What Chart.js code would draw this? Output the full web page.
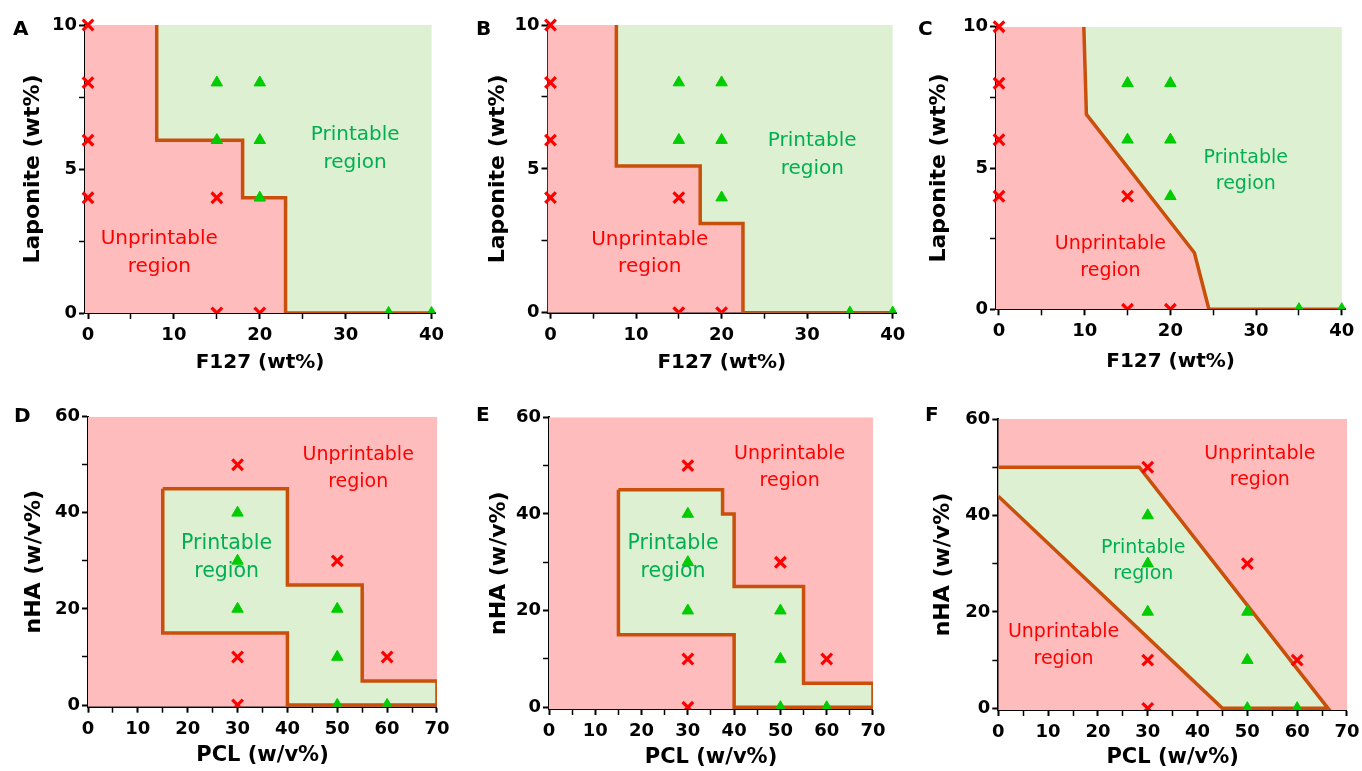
<!DOCTYPE html>
<html>
<head>
<meta charset="utf-8">
<script src="https://cdn.jsdelivr.net/npm/chart.js@4.4.1/dist/chart.umd.min.js"></script>
<style>
  html, body { margin: 0; padding: 0; background: #fff; overflow: hidden; width: 1362px; height: 771px; }
  canvas { position: absolute; }
</style>
</head>
<body>
<canvas id="cA"></canvas>
<canvas id="cB"></canvas>
<canvas id="cC"></canvas>
<canvas id="cD"></canvas>
<canvas id="cE"></canvas>
<canvas id="cF"></canvas>
<script>
// Axis ticks
const f127Ticks = [0, 10, 20, 30, 40];
const f127Minor = [5, 15, 25, 35];
const laponiteTicks = [0, 5, 10];
const laponiteMinor = [2.5, 7.5];
const pclTicks = [0, 10, 20, 30, 40, 50, 60, 70];
const pclMinor = [5, 15, 25, 35, 45, 55, 65];
const nhaTicks = [0, 20, 40, 60];
const nhaMinor = [10, 30, 50];

// Tested formulations, [x, y]
const lapUnprintable = [[0, 10], [0, 8], [0, 6], [0, 4], [15, 4], [15, 0], [20, 0]];
const lapPrintable = [[15, 8], [20, 8], [15, 6], [20, 6], [20, 4], [35, 0], [40, 0]];
const pclUnprintable = [[30, 50], [50, 30], [30, 10], [60, 10], [30, 0]];
const pclPrintable = [[30, 40], [30, 30], [30, 20], [50, 20], [50, 10], [50, 0], [60, 0]];

// Printability boundaries
const boundaryA = [[8, 10], [8, 6], [18, 6], [18, 4], [23, 4], [23, 0], [40, 0]];
const boundaryB = [[7.7, 10], [7.7, 5.1], [17.5, 5.1], [17.5, 3.1], [22.5, 3.1], [22.5, 0], [40, 0]];
const boundaryC = [[9.9, 10], [10.2, 6.9], [22.8, 2], [24.5, 0], [40, 0]];
const regionD = [[15, 45], [40, 45], [40, 25], [55, 25], [55, 5], [70, 5], [70, 0], [40, 0], [40, 15], [15, 15], [15, 45]];
const regionE = [[15, 45], [37.5, 45], [37.5, 40], [40, 40], [40, 25], [55, 25], [55, 5], [70, 5], [70, 0], [40, 0], [40, 15], [15, 15], [15, 45]];
const regionF = [[0, 50], [28.3, 50], [66.2, 0], [45, 0], [0, 44]];

const FONT = "'DejaVu Sans', sans-serif";
const PINK = '#FFBCBC';
const LIGHT_GREEN = '#DDF0D2';
const BROWN = '#C8500A';
const RED = '#FF0000';
const MARK_GREEN = '#00CC00';
const TEXT_GREEN = '#00B050';
const WY = 80, HX = 66;

const panels = [
  { id: 'cA', letter: 'A', kind: 'lap', line: boundaryA, row: 0,
    area: { l: 85, r: 435, t: 25, b: 313 }, yTitleX: 33, xTitleY: 362.5, letterPos: [13, 35],
    labels: [
      { lines: ['Printable', 'region'], x: 31.1, y: 5.7, color: TEXT_GREEN, size: 20 },
      { lines: ['Unprintable', 'region'], x: 8.3, y: 2.08, color: RED, size: 20 }
    ] },
  { id: 'cB', letter: 'B', kind: 'lap', line: boundaryB, row: 0,
    area: { l: 547.5, r: 896.1, t: 25, b: 312.7 }, yTitleX: 498, xTitleY: 362.5, letterPos: [476, 34.5],
    labels: [
      { lines: ['Printable', 'region'], x: 30.6, y: 5.49, color: TEXT_GREEN, size: 20 },
      { lines: ['Unprintable', 'region'], x: 11.6, y: 2.07, color: RED, size: 20 }
    ] },
  { id: 'cC', letter: 'C', kind: 'lap', line: boundaryC, row: 0,
    area: { l: 996, r: 1345.2, t: 26.7, b: 309.3 }, yTitleX: 939, xTitleY: 361.7, letterPos: [918, 35],
    labels: [
      { lines: ['Printable', 'region'], x: 28.8, y: 4.9, color: TEXT_GREEN, size: 19 },
      { lines: ['Unprintable', 'region'], x: 13.0, y: 1.83, color: RED, size: 19 }
    ] },
  { id: 'cD', letter: 'D', kind: 'pcl', line: regionD, row: 1,
    area: { l: 88, r: 439.3, t: 416.7, b: 706.7 }, yTitleX: 34, xTitleY: 755.5, letterPos: [14, 421.7],
    labels: [
      { lines: ['Unprintable', 'region'], x: 54.2, y: 49.2, color: RED, size: 19 },
      { lines: ['Printable', 'region'], x: 27.8, y: 30.7, color: TEXT_GREEN, size: 20.5 }
    ] },
  { id: 'cE', letter: 'E', kind: 'pcl', line: regionE, row: 1,
    area: { l: 549, r: 876, t: 417.3, b: 709 }, yTitleX: 499, xTitleY: 757.5, letterPos: [476, 421],
    labels: [
      { lines: ['Unprintable', 'region'], x: 52.0, y: 49.6, color: RED, size: 19 },
      { lines: ['Printable', 'region'], x: 26.8, y: 31.0, color: TEXT_GREEN, size: 20.5 }
    ] },
  { id: 'cF', letter: 'F', kind: 'pcl', line: regionF, row: 1,
    area: { l: 998.3, r: 1349.3, t: 419, b: 710 }, yTitleX: 943, xTitleY: 757.5, letterPos: [925, 421],
    labels: [
      { lines: ['Unprintable', 'region'], x: 52.5, y: 50.0, color: RED, size: 19 },
      { lines: ['Printable', 'region'], x: 29.1, y: 30.5, color: TEXT_GREEN, size: 19 },
      { lines: ['Unprintable', 'region'], x: 13.1, y: 13.0, color: RED, size: 19 }
    ] }
];

const pts = arr => arr.map(([x, y]) => ({ x, y }));

// Region captions and panel letter
const annotatePlugin = {
  id: 'annotate',
  afterDatasetsDraw(chart, args, opts) {
    const ctx = chart.ctx;
    const xs = chart.scales.x, ys = chart.scales.y;
    ctx.save();
    ctx.textAlign = 'center';
    ctx.textBaseline = 'middle';
    for (const lab of opts.labels || []) {
      const cx = xs.getPixelForValue(lab.x);
      const cy = ys.getPixelForValue(lab.y);
      const step = lab.size * 1.38;
      ctx.font = lab.size + 'px ' + FONT;
      ctx.fillStyle = lab.color;
      lab.lines.forEach((t, i) => {
        ctx.fillText(t, cx, cy + (i - (lab.lines.length - 1) / 2) * step);
      });
    }
    if (opts.letter) {
      ctx.textAlign = 'left';
      ctx.textBaseline = 'alphabetic';
      ctx.font = 'bold 20px ' + FONT;
      ctx.fillStyle = '#000';
      ctx.fillText(opts.letter, opts.letterX, opts.letterY);
    }
    ctx.restore();
  }
};

function axis(min, max, majors, minors, titleText, titleFont, titlePad, isX) {
  return {
    type: 'linear',
    min: min,
    max: max,
    afterBuildTicks: s => { s.ticks = majors.concat(minors).sort((a, b) => a - b).map(v => ({ value: v })); },
    afterFit: s => { if (isX) s.height = HX; else s.width = WY; },
    ticks: {
      autoSkip: false,
      maxRotation: 0,
      padding: isX ? 5.5 : 2,
      color: '#000',
      font: { family: FONT, size: 18, weight: 'bold' },
      callback: v => majors.includes(v) ? String(v) : ''
    },
    grid: {
      drawOnChartArea: false,
      drawTicks: true,
      tickLength: 6,
      tickColor: '#000',
      tickWidth: c => (c.tick && majors.includes(c.tick.value)) ? 2 : 1.5
    },
    border: { display: true, color: '#000', width: 2 },
    title: {
      display: true,
      text: titleText,
      color: '#000',
      font: { family: FONT, size: titleFont, weight: 'bold' },
      padding: titlePad
    }
  };
}

panels.forEach(p => {
  const a = p.area;
  const left = Math.floor(a.l - WY);
  const top = p.row === 0 ? 0 : 385;
  const width = Math.ceil(a.r + 15) - left;
  const height = Math.ceil(a.b + HX + 2) - top;
  const canvas = document.getElementById(p.id);
  canvas.width = width;
  canvas.height = height;
  canvas.style.left = left + 'px';
  canvas.style.top = top + 'px';

  const isLap = p.kind === 'lap';
  const xMin = isLap ? -0.35 : 0, xMax = isLap ? 40.4 : 70;
  const yMin = isLap ? 0 : -0.35, yMax = isLap ? 10 : 60;

  let pinkPoly, greenPoly;
  if (isLap) {
    greenPoly = p.line.concat([[40, 10]]);
    pinkPoly = [[xMin, 10]].concat(p.line, [[xMin, 0]]);
  } else {
    pinkPoly = [[0, yMin], [0, 60], [70, 60], [70, yMin]];
    greenPoly = p.line;
  }

  const markerClip = { left: false, top: false, right: false, bottom: 0 };

  new Chart(canvas, {
    type: 'scatter',
    data: {
      datasets: [
        { data: pts(isLap ? lapUnprintable : pclUnprintable), showLine: false, order: 0, clip: markerClip,
          pointStyle: 'crossRot', pointRadius: 7.5, pointBorderWidth: 3.2,
          pointBorderColor: RED, pointBackgroundColor: RED },
        { data: pts(isLap ? lapPrintable : pclPrintable), showLine: false, order: 1, clip: markerClip,
          pointStyle: 'triangle', pointRadius: 6.6, pointBorderWidth: 1,
          pointBorderColor: MARK_GREEN, pointBackgroundColor: MARK_GREEN },
        { data: pts(p.line), showLine: true, order: 2, fill: false,
          borderColor: BROWN, borderWidth: 3.5, borderJoinStyle: 'miter', pointRadius: 0 },
        { data: pts(greenPoly), showLine: true, order: 3, fill: 'shape',
          backgroundColor: LIGHT_GREEN, borderColor: 'rgba(0,0,0,0)', borderWidth: 0, pointRadius: 0 },
        { data: pts(pinkPoly), showLine: true, order: 4, fill: 'shape',
          backgroundColor: PINK, borderColor: 'rgba(0,0,0,0)', borderWidth: 0, pointRadius: 0 }
      ]
    },
    options: {
      responsive: false,
      animation: false,
      events: [],
      layout: {
        padding: {
          left: a.l - WY - left,
          top: a.t - top,
          right: left + width - a.r,
          bottom: top + height - a.b - HX
        }
      },
      scales: {
        x: axis(xMin, xMax, isLap ? f127Ticks : pclTicks, isLap ? f127Minor : pclMinor,
          isLap ? 'F127 (wt%)' : 'PCL (w/v%)', isLap ? 20 : 21,
          { top: 0, bottom: Math.max(0, (a.b + HX) - (isLap ? 12 : 12.6) - p.xTitleY) }, true),
        y: axis(yMin, yMax, isLap ? laponiteTicks : nhaTicks, isLap ? laponiteMinor : nhaMinor,
          isLap ? 'Laponite (wt%)' : 'nHA (w/v%)', 22,
          { top: Math.max(0, p.yTitleX - (a.l - WY) - 13.2), bottom: 0 }, false)
      },
      plugins: {
        legend: { display: false },
        tooltip: { enabled: false },
        annotate: {
          labels: p.labels,
          letter: p.letter,
          letterX: p.letterPos[0] - left,
          letterY: p.letterPos[1] - top
        }
      }
    },
    plugins: [annotatePlugin]
  });
});
</script>
</body>
</html>
